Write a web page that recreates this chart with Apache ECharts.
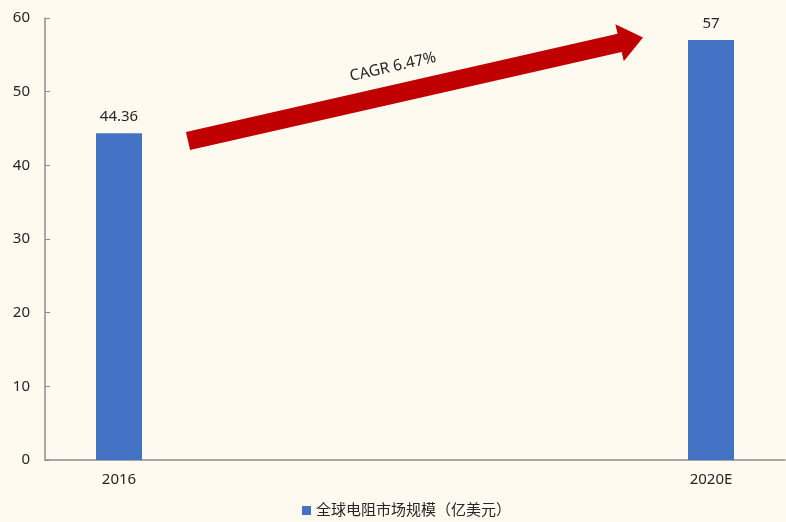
<!DOCTYPE html>
<html><head><meta charset="utf-8">
<script src="https://cdn.jsdelivr.net/npm/echarts@6/dist/echarts.min.js"></script>
<style>html,body{margin:0;padding:0;background:#FFFAF0;}#c{width:786px;height:522px;}</style>
</head><body><div id="c"></div>
<script>
const categories = ['2016', '2017', '2018', '2019', '2020E'];
const shownLabels = ['2016', '', '', '', '2020E'];
const marketSize = [44.36, null, null, null, 57];
const seriesName = '全球电阻市场规模（亿美元）';
const cagrText = 'CAGR 6.47%';

const chart = echarts.init(document.getElementById('c'));
const FONT = '"Noto Sans", "Noto Sans CJK SC", sans-serif';
const TXT = '#262626';
chart.setOption({
  backgroundColor: '#FFFAF0',
  animation: false,
  textStyle: { fontFamily: FONT },
  grid: { left: 45, right: 1, top: 18, bottom: 62 },
  legend: {
    data: [seriesName], bottom: -1, left: 297,
    icon: 'rect', itemWidth: 9, itemHeight: 9, itemGap: 5,
    textStyle: { fontSize: 15, color: TXT, fontFamily: FONT }
  },
  xAxis: {
    type: 'category', data: categories,
    axisLine: { lineStyle: { color: '#8c8c8c', width: 1.5 } },
    axisTick: { inside: true, length: 5, lineStyle: { color: '#8c8c8c' } },
    axisLabel: { fontSize: 15, color: TXT, margin: 12,
      formatter: (v, i) => shownLabels[i] }
  },
  yAxis: {
    type: 'value', min: 0, max: 60, interval: 10,
    splitLine: { show: false },
    axisLine: { show: true, lineStyle: { color: '#8c8c8c', width: 1.5 } },
    axisTick: { show: true, inside: true, length: 5, lineStyle: { color: '#8c8c8c' } },
    axisLabel: { fontSize: 15, color: TXT, margin: 15 }
  },
  series: [{
    name: seriesName, type: 'bar', data: marketSize, barWidth: 46,
    itemStyle: { color: '#4472C4' },
    label: { show: true, position: 'top', distance: 9, fontSize: 15, color: TXT,
      formatter: p => p.value }
  }],
  graphic: [
    {
      type: 'polygon',
      shape: { points: (function () {
        const sx = 188, sy = 141, ex = 643, ey = 37.5;
        const dx = ex - sx, dy = ey - sy, L = Math.hypot(dx, dy);
        const ux = dx / L, uy = dy / L, nx = -uy, ny = ux;
        const hw = 9.3, headLen = 24, headW = 19;
        const bx = ex - ux * headLen, by = ey - uy * headLen;
        return [
          [sx + nx * hw, sy + ny * hw],
          [bx + nx * hw, by + ny * hw],
          [bx + nx * headW, by + ny * headW],
          [ex, ey],
          [bx - nx * headW, by - ny * headW],
          [bx - nx * hw, by - ny * hw],
          [sx - nx * hw, sy - ny * hw]
        ];
      })() },
      style: { fill: '#C00000' }
    },
    {
      type: 'text', x: 393, y: 67, rotation: 12.8 * Math.PI / 180,
      style: { text: cagrText, fontSize: 15.5, fill: TXT, fontFamily: FONT,
        align: 'center', verticalAlign: 'middle' }
    }
  ]
});
</script></body></html>
